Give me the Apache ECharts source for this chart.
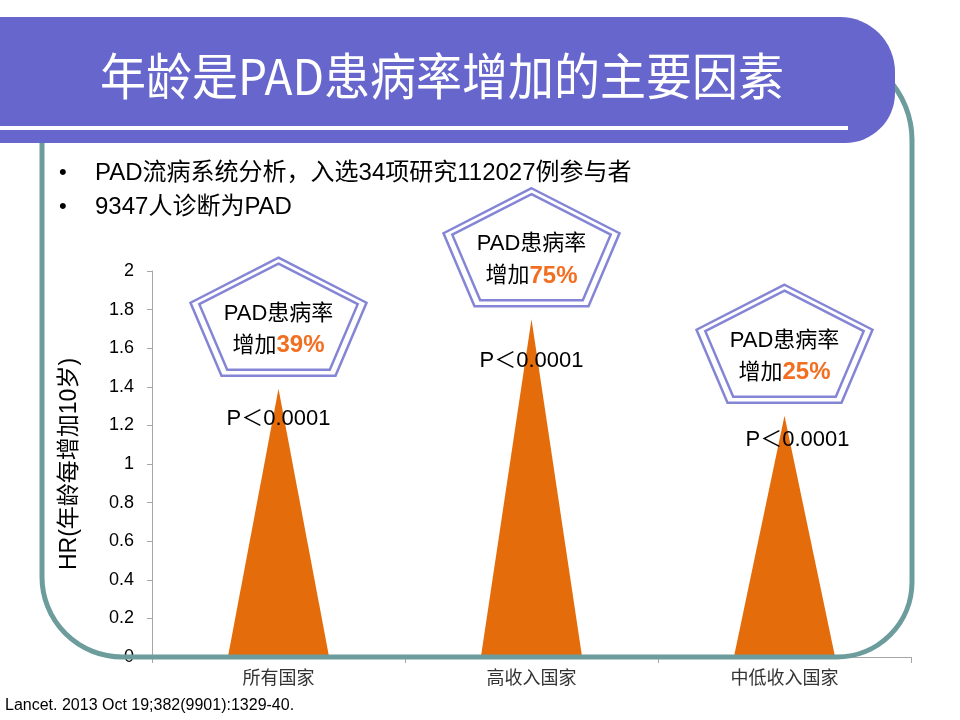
<!DOCTYPE html>
<html><head><meta charset="utf-8">
<script src="https://cdn.jsdelivr.net/npm/echarts@6/dist/echarts.min.js"></script>
<style>html,body{margin:0;padding:0;background:#fff}#c{width:960px;height:720px}</style>
</head><body><div id="c"></div>
<script>
// ---- data ----
const titleText = '年龄是PAD患病率增加的主要因素';
const bullets = ['PAD流病系统分析，入选34项研究112027例参与者', '9347人诊断为PAD'];
const categories = ['所有国家', '高收入国家', '中低收入国家'];
const hrValues = [1.39, 1.75, 1.25];
const increaseLabels = ['39%', '75%', '25%'];
const pLabels = ['P＜0.0001', 'P＜0.0001', 'P＜0.0001'];
const yAxisName = 'HR(年龄每增加10岁)';
const sourceText = 'Lancet. 2013 Oct 19;382(9901):1329-40.';

// ---- layout / style ----
const LATIN = '"Liberation Sans", Arial, "Noto Sans CJK SC", sans-serif';
const CJK = '"Noto Sans CJK SC", "Liberation Sans", sans-serif';
const pOffsets = [[0, 30], [0, 42], [13, 24]];

const chart = echarts.init(document.getElementById('c'), null, {renderer: 'canvas'});
chart.setOption({
  backgroundColor: '#ffffff',
  animation: false,
  grid: {left: 152, right: 49, top: 271, bottom: 63, containLabel: false},
  xAxis: {
    type: 'category', data: categories, boundaryGap: true,
    axisLine: {lineStyle: {color: '#A6A6A6', width: 1}},
    axisTick: {show: true, length: 6, lineStyle: {color: '#A6A6A6'}},
    axisLabel: {color: '#333333', fontSize: 18, fontFamily: CJK, margin: 11}
  },
  yAxis: {
    type: 'value', min: 0, max: 2, interval: 0.2,
    name: yAxisName, nameLocation: 'middle', nameGap: 71, nameRotate: 90,
    nameTextStyle: {color: '#000', fontSize: 23, fontFamily: LATIN},
    axisLine: {show: true, lineStyle: {color: '#A6A6A6', width: 1}},
    axisTick: {show: true, length: 5, lineStyle: {color: '#A6A6A6'}},
    axisLabel: {color: '#000', fontSize: 18, fontFamily: LATIN, margin: 18},
    splitLine: {show: false}
  },
  series: [{
    type: 'pictorialBar',
    data: hrValues,
    symbol: 'triangle',
    barWidth: '40%',
    symbolSize: ['100%', '100%'],
    itemStyle: {color: '#E46C0A'},
    z: 2
  }]
});

function build() {
  const g = [];
  // teal frame
  g.push({type: 'rect', z: 50, silent: true,
    shape: {x: 42, y: 50, width: 870, height: 607, r: [80, 90, 75, 80]},
    style: {fill: 'none', stroke: '#6C9C9C', lineWidth: 5}});
  // banner
  g.push({type: 'rect', z: 60, silent: true,
    shape: {x: -20, y: 17, width: 915, height: 126, r: [0, 55, 50, 0]},
    style: {fill: '#6666CC'}});
  g.push({type: 'rect', z: 61, silent: true,
    shape: {x: 0, y: 126, width: 848, height: 4},
    style: {fill: '#ffffff'}});
  g.push({type: 'text', z: 62, silent: true, x: 442, y: 76, scaleX: 1.0, scaleY: 1.08,
    style: {text: titleText, fill: '#ffffff', font: '46px ' + CJK, align: 'center', verticalAlign: 'middle'}});
  // bullets
  bullets.forEach((b, i) => {
    const y = 173 + i * 34;
    g.push({type: 'text', z: 62, x: 59, y: y, style: {text: '•', fill: '#000', font: '22px ' + LATIN, verticalAlign: 'middle'}});
    g.push({type: 'text', z: 62, x: 95, y: y, style: {text: b, fill: '#000', font: '24px ' + LATIN, verticalAlign: 'middle'}});
  });
  // source
  g.push({type: 'text', z: 62, x: 5, y: 706, style: {text: sourceText, fill: '#000', font: '16px ' + LATIN, verticalAlign: 'middle'}});

  // annotations
  const outer = [[0, -131], [88, -86], [57, -13], [-57, -13], [-88, -86]];
  const cy = -72, k = 0.9;
  const inner = outer.map(p => [p[0] * k, cy + (p[1] - cy) * k]);
  categories.forEach((c, i) => {
    const pt = chart.convertToPixel({gridIndex: 0}, [c, hrValues[i]]);
    const px = pt[0], py = pt[1];
    const toAbs = arr => arr.map(p => [px + p[0], py + p[1]]);
    g.push({type: 'polygon', z: 70, shape: {points: toAbs(outer)},
      style: {fill: '#ffffff', stroke: '#8585D6', lineWidth: 2.5}});
    g.push({type: 'polygon', z: 71, shape: {points: toAbs(inner)},
      style: {fill: 'none', stroke: '#8585D6', lineWidth: 2.5}});
    g.push({type: 'text', z: 72, x: px, y: py - 75,
      style: {text: 'PAD患病率', fill: '#000', font: '22px ' + LATIN, align: 'center', verticalAlign: 'middle'}});
    g.push({type: 'text', z: 72, x: px, y: py - 43,
      style: {
        text: '{a|增加}{b|' + increaseLabels[i] + '}',
        align: 'center', verticalAlign: 'middle',
        rich: {
          a: {fill: '#000', fontSize: 22, fontFamily: LATIN},
          b: {fill: '#F26F21', fontSize: 24, fontWeight: 'bold', fontFamily: LATIN}
        }
      }});
    g.push({type: 'text', z: 72, x: px + pOffsets[i][0], y: py + pOffsets[i][1],
      style: {text: pLabels[i], fill: '#000', font: '22px ' + LATIN, align: 'center', verticalAlign: 'middle'}});
  });
  chart.setOption({graphic: {elements: g}});
}
build();
</script></body></html>
